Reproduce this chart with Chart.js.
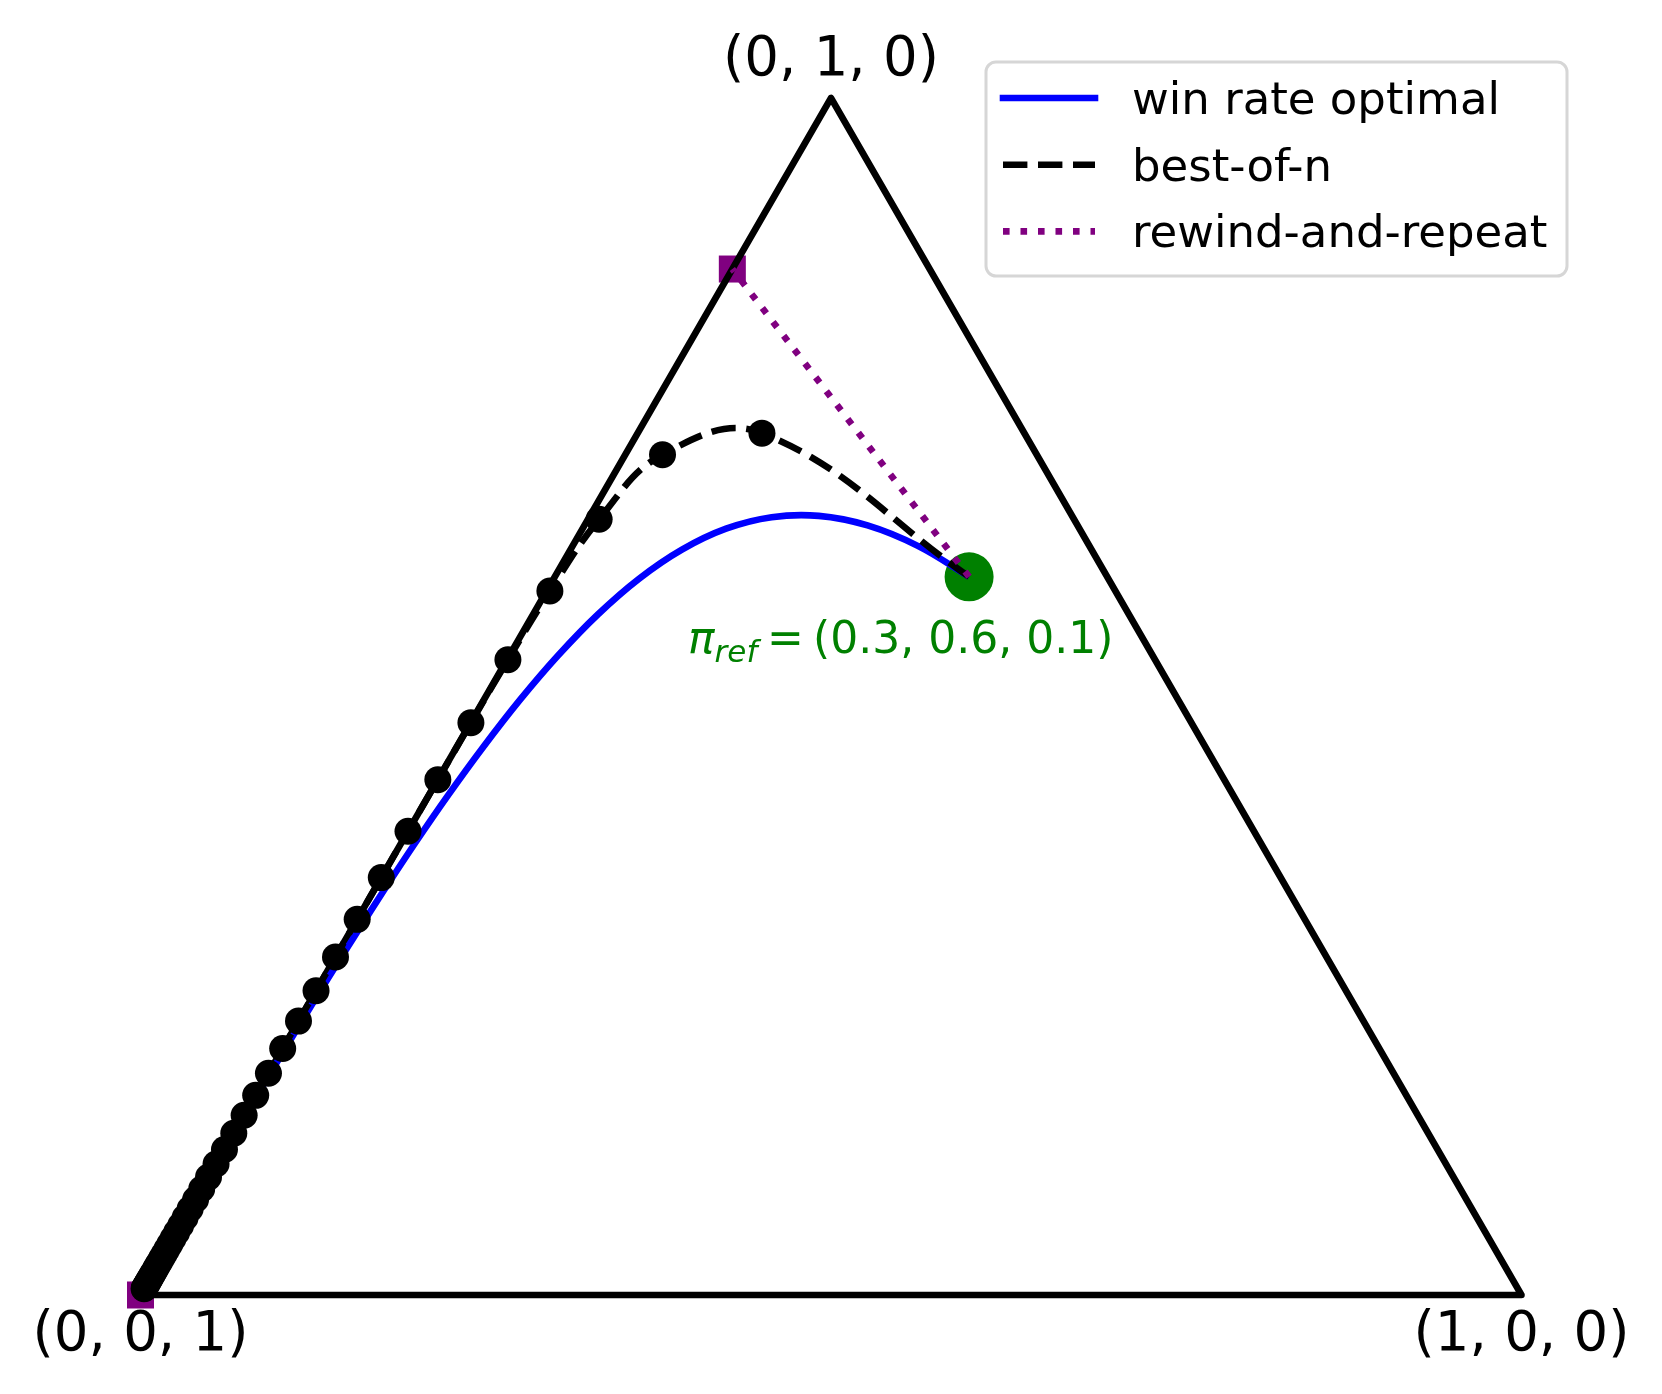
<!DOCTYPE html>
<html>
<head>
<meta charset="utf-8">
<script src="https://cdn.jsdelivr.net/npm/chart.js@4.4.0/dist/chart.umd.min.js"></script>
<style>
  html, body { margin: 0; padding: 0; background: #fff; }
  #wrap { width: 1662px; height: 1394px; position: relative; }
</style>
</head>
<body>
<div id="wrap"><canvas id="chart"></canvas></div>
<script>
// all points are ternary coordinates (p1, p2, p3)
const vertices = [[1, 0, 0], [0, 1, 0], [0, 0, 1]];
const vertexLabels = ['(1, 0, 0)', '(0, 1, 0)', '(0, 0, 1)'];
const piRef = [0.3, 0.6, 0.1];
const seriesNames = ['win rate optimal', 'best-of-n', 'rewind-and-repeat'];

// win rate optimal path, from pi_ref to (0, 0, 1)
const winP1 = [0.3, 0.2499, 0.2050, 0.1657, 0.1321, 0.1039, 0.0807, 0.0619, 0.0470, 0.0353,
               0.0262, 0.0193, 0.0140, 0.0101, 0.0073, 0.0052, 0.0036, 0.0026, 0.0018, 0.0012,
               0.0009, 0.0004, 0.0002, 0.0001, 0, 0, 0, 0, 0, 0, 0, 0];
const winP2 = [0.6, 0.6258, 0.6429, 0.6509, 0.6498, 0.6402, 0.6227, 0.5985, 0.5687, 0.5344,
               0.4971, 0.4578, 0.4176, 0.3776, 0.3387, 0.3014, 0.2663, 0.2339, 0.2041, 0.1773,
               0.1533, 0.1132, 0.0825, 0.0596, 0.0428, 0.0305, 0.0217, 0.0154, 0.0109, 0.0054, 0.0010, 0];

// best-of-n, n = 1..50
const bonP1 = [0.3, 0.09, 0.027, 0.0081, 0.0024, 0.0007, 0.0002, 0.0001];
const bonP3 = [0.1, 0.19, 0.271, 0.3439, 0.4095, 0.4686, 0.5217, 0.5695, 0.6126, 0.6513,
               0.6862, 0.7176, 0.7458, 0.7712, 0.7941, 0.8147, 0.8332, 0.8499, 0.8649, 0.8784,
               0.8906, 0.9015, 0.9114, 0.9202, 0.9282, 0.9354, 0.9419, 0.9477, 0.9529, 0.9576,
               0.9618, 0.9657, 0.9691, 0.9722, 0.9750, 0.9775, 0.9797, 0.9818, 0.9836, 0.9852,
               0.9867, 0.9880, 0.9892, 0.9903, 0.9913, 0.9921, 0.9929, 0.9936, 0.9943, 0.9948];

// rewind-and-repeat end points
const rewindPts = [[0, 0.8571, 0.1429], [0, 0, 1]];

const SQ3 = Math.sqrt(3) / 2;
function toXY(p) {
  return { x: p[0] + p[1] / 2, y: p[1] * SQ3 };
}

const trianglePts = [vertices[2], vertices[0], vertices[1], vertices[2]].map(toXY);
const winPts = winP1.map((a, i) => toXY([a, winP2[i], 1 - a - winP2[i]]));
const bonPts = bonP3.map((c, i) => {
  const a = bonP1[i] || 0;
  return toXY([a, 1 - a - c, c]);
});

const LW = 6.6;

const overlay = {
  id: 'overlay',
  afterDraw(chart) {
    const ctx = chart.ctx;
    const xs = chart.scales.x, ys = chart.scales.y;
    const px = p => { const q = toXY(p); return [xs.getPixelForValue(q.x), ys.getPixelForValue(q.y)]; };
    ctx.save();

    // vertex labels
    ctx.fillStyle = '#000';
    ctx.font = '54.5px "DejaVu Sans"';
    ctx.textAlign = 'center';
    ctx.textBaseline = 'alphabetic';
    vertices.forEach((v, i) => {
      const [x, y] = px(v);
      ctx.fillText(vertexLabels[i], x, i === 1 ? y - 23 : y + 55);
    });

    // pi_ref label
    const [rx, ry] = px(piRef);
    const x0 = rx - 281, base = ry + 76;
    ctx.fillStyle = '#008000';
    ctx.textAlign = 'left';
    ctx.font = 'italic 44px "DejaVu Sans"';
    ctx.fillText('π', x0, base);
    const wPi = ctx.measureText('π').width;
    ctx.font = 'italic 31px "DejaVu Sans"';
    ctx.fillText('ref', x0 + wPi, base + 9);
    ctx.font = '44px "DejaVu Sans"';
    ctx.fillText('=', x0 + 79, base);
    ctx.fillText('(0.3, 0.6, 0.1)', x0 + 125, base);

    // legend
    const bx = 986, by = 62, bw = 581, bh = 214, r = 10;
    ctx.beginPath();
    ctx.moveTo(bx + r, by);
    ctx.arcTo(bx + bw, by, bx + bw, by + bh, r);
    ctx.arcTo(bx + bw, by + bh, bx, by + bh, r);
    ctx.arcTo(bx, by + bh, bx, by, r);
    ctx.arcTo(bx, by, bx + bw, by, r);
    ctx.closePath();
    ctx.fillStyle = 'rgba(255,255,255,0.8)';
    ctx.fill();
    ctx.lineWidth = 3;
    ctx.strokeStyle = '#d6d6d6';
    ctx.stroke();

    const handles = [
      { color: '#0000ff', dash: [], cap: 'square' },
      { color: '#000000', dash: [24.4, 10.6], cap: 'butt' },
      { color: '#800080', dash: [6.6, 10.9], cap: 'butt' }
    ];
    ctx.font = '45px "DejaVu Sans"';
    handles.forEach((h, i) => {
      const yy = 98 + i * 66.7;
      ctx.beginPath();
      ctx.setLineDash(h.dash);
      ctx.lineCap = h.cap;
      ctx.lineWidth = LW;
      ctx.strokeStyle = h.color;
      ctx.moveTo(1003, yy);
      ctx.lineTo(1095, yy);
      ctx.stroke();
      ctx.setLineDash([]);
      ctx.fillStyle = '#000';
      ctx.fillText(seriesNames[i], 1132, yy + 16);
    });
    ctx.restore();
  }
};

new Chart(document.getElementById('chart'), {
  type: 'line',
  data: {
    datasets: [
      {
        label: seriesNames[2],
        data: [toXY(piRef), toXY(rewindPts[0])],
        borderColor: '#800080',
        borderWidth: LW,
        borderDash: [6.6, 10.9],
        borderCapStyle: 'butt',
        pointRadius: 0,
        order: 1
      },
      {
        label: 'best-of-n points',
        data: bonPts.slice(1),
        showLine: false,
        pointRadius: 13.5,
        pointBackgroundColor: '#000',
        pointBorderWidth: 0,
        order: 2
      },
      {
        label: seriesNames[1],
        data: bonPts,
        borderColor: '#000',
        borderWidth: LW,
        borderDash: [24.4, 10.6],
        borderCapStyle: 'butt',
        tension: 0.4,
        pointRadius: 0,
        order: 3
      },
      {
        label: seriesNames[0],
        data: winPts,
        borderColor: '#0000ff',
        borderWidth: LW,
        tension: 0.4,
        pointRadius: 0,
        order: 4
      },
      {
        label: 'simplex',
        data: trianglePts,
        borderColor: '#000',
        borderWidth: LW,
        borderJoinStyle: 'round',
        borderCapStyle: 'round',
        tension: 0,
        pointRadius: 0,
        order: 5
      },
      {
        label: 'rewind end points',
        data: rewindPts.map(toXY),
        showLine: false,
        pointStyle: 'rect',
        pointRadius: 19.1,
        pointBackgroundColor: '#800080',
        pointBorderWidth: 0,
        order: 6
      },
      {
        label: 'pi_ref',
        data: [toXY(piRef)],
        showLine: false,
        pointRadius: 24.5,
        pointBackgroundColor: '#008000',
        pointBorderWidth: 0,
        order: 7
      }
    ]
  },
  options: {
    responsive: true,
    maintainAspectRatio: false,
    animation: false,
    devicePixelRatio: 1,
    layout: { padding: 0, autoPadding: false },
    plugins: { legend: { display: false }, tooltip: { enabled: false } },
    scales: {
      x: { type: 'linear', display: false, min: -0.10174, max: 1.10174 },
      y: { type: 'linear', display: false, min: -0.07163, max: 0.93691 }
    }
  },
  plugins: [overlay]
});
</script>
</body>
</html>
